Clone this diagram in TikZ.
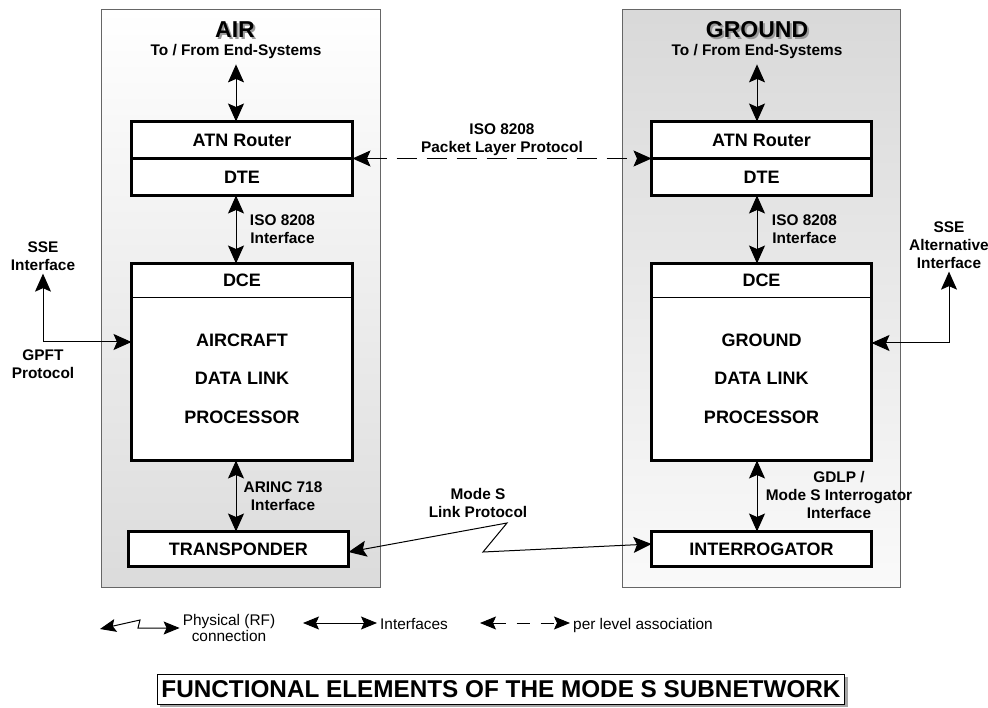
\documentclass[tikz,border=0pt]{standalone}
\usepackage{fontspec}
\setmainfont{Liberation Sans}
\usepackage{tikz}
\usetikzlibrary{positioning}
\usetikzlibrary{arrows.meta}
\usetikzlibrary{shadows}

\newcommand{\shadowed}[1]{\makebox[0pt][l]{\hspace{2pt}\raisebox{-2pt}{\textcolor{black!40}{#1}}}#1}

\tikzset{
    unitbox/.style={draw, line width=3pt, fill=white, minimum width=221pt, minimum height=37pt,
        inner sep=0pt, outer sep=0pt, font=\fontsize{18}{22}\selectfont\bfseries},
    partbox/.style={draw, line width=0.8pt, fill=white, minimum width=221pt, inner sep=0pt,
        outer sep=0pt, align=center, font=\fontsize{18}{38.5}\selectfont\bfseries},
    sidetitle/.style={font=\fontsize{23}{26}\selectfont\bfseries, inner sep=0pt, anchor=base},
    lbl/.style={font=\fontsize{15.4}{18}\selectfont\bfseries, align=center, inner sep=3pt},
    leg/.style={font=\fontsize{15.4}{16.5}\selectfont, align=center, inner sep=3pt},
    panel/.style={draw=black!60, line width=1pt},
    biarrow/.style={line width=1pt, {Stealth[length=18pt,width=16pt,inset=3.5pt]}-{Stealth[length=18pt,width=16pt,inset=3.5pt]}},
    legarrow/.style={line width=1pt, {Stealth[length=16pt,width=13pt,inset=3pt]}-{Stealth[length=16pt,width=13pt,inset=3pt]}},
    captionbox/.style={draw, line width=1pt, fill=white, inner xsep=4pt, minimum height=30pt,
        font=\fontsize{24.3}{28}\selectfont\bfseries,
        drop shadow={shadow xshift=3pt, shadow yshift=-3pt, fill=black!35, opacity=1}}
}

\begin{document}
\begin{tikzpicture}[x=1pt, y=-1pt]
    \useasboundingbox (0,0) rectangle (988,708);

    % the two sides
    \draw[panel, top color=white, bottom color=black!14] (101,10) rectangle (380,587);
    \draw[panel, top color=black!15, bottom color=black!2] (622,10) rectangle (900,587);

    % AIR
    \node[sidetitle] (airtitle) at (235,38) {\shadowed{AIR}};
    \node[lbl, inner sep=1pt, anchor=base] (airends) at (236,56) {To / From End-Systems};
    \node[unitbox] (airatn) at (242,140) {ATN Router};
    \node[unitbox, below=0pt of airatn] (airdte) {DTE};
    \node[partbox, minimum height=33.5pt] (airdce) at (242,280.25) {DCE};
    \node[partbox, minimum height=163.5pt, below=0pt of airdce] (airdlp) {AIRCRAFT\\DATA LINK\\PROCESSOR};
    \draw[line width=3pt] (airdce.north west) rectangle (airdlp.south east);
    \node[unitbox, minimum width=220pt, minimum height=35pt] (airxpdr) at (238.5,549) {TRANSPONDER};

    \node[lbl] (airiso) at (282.5,229) {ISO 8208\\Interface};
    \node[lbl] (arinc) at (283,496) {ARINC 718\\Interface};
    \node[lbl] (airsse) at (43,256) {SSE\\Interface};
    \node[lbl] (gpft) at (43,364) {GPFT\\Protocol};

    % GROUND
    \node[sidetitle] (gndtitle) at (757,38) {\shadowed{GROUND}};
    \node[lbl, inner sep=1pt, anchor=base] (gndends) at (757,56) {To / From End-Systems};
    \node[unitbox, minimum width=220pt] (gndatn) at (761.5,140) {ATN Router};
    \node[unitbox, minimum width=220pt, below=0pt of gndatn] (gnddte) {DTE};
    \node[partbox, minimum width=220pt, minimum height=33.5pt] (gnddce) at (761.5,280.25) {DCE};
    \node[partbox, minimum width=220pt, minimum height=163.5pt, below=0pt of gnddce] (gnddlp) {GROUND\\DATA LINK\\PROCESSOR};
    \draw[line width=3pt] (gnddce.north west) rectangle (gnddlp.south east);
    \node[unitbox, minimum width=220pt, minimum height=35pt] (gndintr) at (761.5,549) {INTERROGATOR};

    \node[lbl] (gndiso) at (804.5,229) {ISO 8208\\Interface};
    \node[lbl] (gdlp) at (839,495) {GDLP /\\Mode S Interrogator\\Interface};
    \node[lbl] (gndsse) at (949,245) {SSE\\Alternative\\Interface};

    % between the sides
    \node[lbl] (plp) at (502,140) {ISO 8208\\Packet Layer Protocol};
    \node[lbl] (modes) at (478,503) {Mode S\\Link Protocol};
    \coordinate (rfbendA) at (507,523);
    \coordinate (rfbendB) at (483,552);

    \draw[biarrow] ([yshift=-4pt]airends.south) -- (airends.south |- airatn.north);
    \draw[biarrow] (airdte.south -| airends) -- (airdce.north -| airends);
    \draw[biarrow] (airdlp.south -| airends) -- (airxpdr.north -| airends);
    \draw[biarrow] (airsse.south) |- ([yshift=36.75pt]airdlp.west);

    \draw[biarrow] ([yshift=-4pt]gndends.south) -- (gndends.south |- gndatn.north);
    \draw[biarrow] (gnddte.south -| gndends) -- (gnddce.north -| gndends);
    \draw[biarrow] (gnddlp.south -| gndends) -- (gndintr.north -| gndends);
    \draw[biarrow] (gndsse.south) |- ([yshift=35.75pt]gnddlp.east);

    \draw[biarrow, dash pattern=on 20pt off 10pt] (airatn.south east) -- (gndatn.south west);
    \draw[biarrow] ([yshift=-3pt]airxpdr.east) -- (rfbendA) -- (rfbendB) -- ([yshift=5pt]gndintr.west);

    % legend
    \node[leg] (physleg) at (229,628) {Physical (RF)\\connection};
    \node[leg, anchor=base west] (intfleg) at (377,629) {Interfaces};
    \node[leg, anchor=base west] (assocleg) at (570,629) {per level association};
    \coordinate (rfleg) at (100,629);
    \coordinate (rflegbendA) at (140,620);
    \coordinate (rflegbendB) at (138,628);
    \coordinate (intfstart) at (303,623);
    \coordinate (assocstart) at (480,623);
    \draw[legarrow] (rfleg) -- (rflegbendA) -- (rflegbendB) -- (physleg.west);
    \draw[legarrow] (intfstart) -- (intfstart -| intfleg.west);
    \draw[legarrow, dash pattern=on 13pt off 11pt] (assocstart) -- (assocstart -| assocleg.west);

    \node[captionbox] (caption) at (501,689) {FUNCTIONAL ELEMENTS OF THE MODE S SUBNETWORK};
\end{tikzpicture}
\end{document}
